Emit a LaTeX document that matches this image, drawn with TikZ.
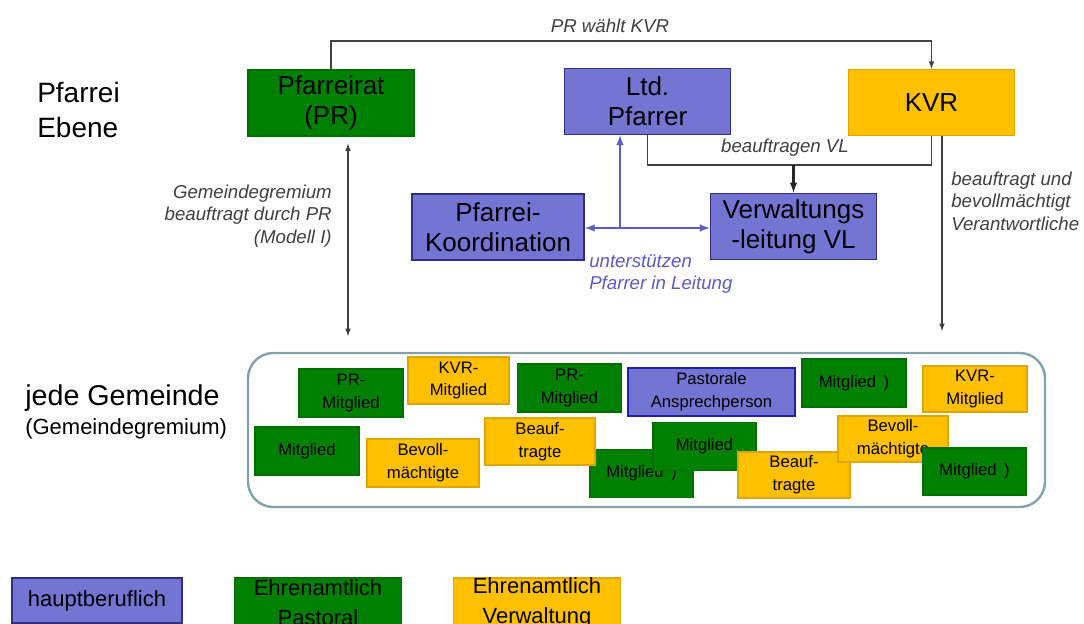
\documentclass[tikz,border=0pt]{standalone}
\usepackage{fontspec}
\setmainfont{Liberation Sans}
\usepackage{tikz}
\usetikzlibrary{positioning,calc,arrows}

\definecolor{prgreen}{RGB}{0,128,0}
\definecolor{prborder}{RGB}{0,110,0}
\definecolor{kvryellow}{RGB}{255,192,0}
\definecolor{kvrborder}{RGB}{222,166,0}
\definecolor{hbblue}{RGB}{116,116,210}
\definecolor{hbborder}{RGB}{46,46,130}
\definecolor{linkblue}{RGB}{92,92,196}
\definecolor{labelgray}{RGB}{64,64,64}
\definecolor{gemborder}{RGB}{132,162,172}

\tikzset{
  pastoral/.style = {fill = prgreen, draw = prborder},
  verwaltung/.style = {fill = kvryellow, draw = kvrborder},
  haupt/.style = {fill = hbblue, draw = hbborder},
  bigbox/.style = {line width = 1.2pt, minimum width = 124.5pt, minimum height = 49.5pt, inner sep = 0pt, align = center, font = \fontsize{19.5}{22.5}\selectfont},
  smallbox/.style = {line width = .8pt, minimum width = 78pt, minimum height = 36pt, inner sep = 0pt, align = center, font = \fontsize{12.5}{17}\selectfont},
  legbox/.style = {line width = 1.2pt, minimum width = 125pt, inner sep = 0pt, align = center, font = \fontsize{16.5}{22.5}\selectfont},
  lbl/.style = {inner sep = 0pt, text = labelgray, font = \fontsize{14}{17}\selectfont\itshape},
  conn/.style = {draw = black!75, line width = .9pt, >=latex},
  blueconn/.style = {draw = linkblue, line width = 1.5pt, >=latex}
}

\begin{document}
\begin{tikzpicture}[x = .75pt, y = -.75pt]

\clip (0,0) rectangle (1084,624);
\fill[white] (0,0) rectangle (1084,624);

%%%%%%%%%%%%%%%%%%%%%%%%%%%%%%%% Pfarrei Ebene

\node[inner sep = 0pt, anchor = west, align = left, font = \fontsize{21}{26}\selectfont] (ebene) at (37,110) {Pfarrei\\Ebene};

\node[bigbox, pastoral] (PR) at (331,103) {Pfarreirat\\(PR)};
\node[bigbox, haupt] (LP) at (647.5,101.5) {Ltd.\\Pfarrer};
\node[bigbox, verwaltung] (KVR) at (931.5,102.5) {KVR};

\node[bigbox, haupt, minimum width = 129pt] (PK) at (498,227) {Pfarrei-\\Koordination};
\node[bigbox, haupt] (VL) at (793.5,226.5) {Verwaltungs\\-leitung VL};

%%%%%%%%%%%%%%%%%%%%%%%%%%%%%%%% connectors

\coordinate (wahl) at (620,41);
\draw[conn, ->] (PR.north) |- (wahl) -| (KVR.north);
\node[lbl] (wahltext) at (610,26) {PR wählt KVR};

\coordinate (vljoin) at (793.5,165);
\draw[conn] (LP.south) |- (vljoin) -| (KVR.south);
\draw[conn, line width = 1.6pt, draw = black!85, ->] (vljoin) -- (VL.north);
\node[lbl] (vltext) at (785,148) {beauftragen VL};

\coordinate (bj) at (620,228);
\draw[blueconn, <->] (PK.east |- bj) -- (VL.west |- bj);
\draw[blueconn, ->] (bj) -- (LP.south -| bj);
\node[lbl, text = linkblue, anchor = west, align = left] (untext) at (589,274) {unterstützen\\Pfarrer in Leitung};

\coordinate (gpr) at (348,336);
\draw[conn, <->, shorten < = 5pt] (PR.south -| gpr) -- (gpr);
\node[lbl, anchor = east, align = right] (prtext) at (332,216) {Gemeindegremium\\beauftragt durch PR\\(Modell I)};

\coordinate (gkvr) at (942,331);
\draw[conn, ->] (KVR.south -| gkvr) -- (gkvr);
\node[lbl, anchor = west, align = left] (kvrtext) at (951,201) {beauftragt und\\bevollmächtigt\\Verantwortliche};

%%%%%%%%%%%%%%%%%%%%%%%%%%%%%%%% jede Gemeinde

\node[inner sep = 0pt, anchor = west, font = \fontsize{21.5}{24}\selectfont] (gemeinde) at (25,398) {jede Gemeinde};
\node[inner sep = 0pt, anchor = west, font = \fontsize{16.5}{18}\selectfont] (gremium) at (25,429) {(Gemeindegremium)};

\node[draw = gemborder, line width = 1.8pt, rounded corners = 19pt, minimum width = 597.75pt, minimum height = 115.5pt] (GEM) at (646.5,430) {};

\node[smallbox, pastoral] (prm1) at (351,393) {PR-\\Mitglied};
\node[smallbox, verwaltung, minimum width = 75.75pt, minimum height = 35.25pt] (kvrm1) at (458.5,380.5) {KVR-\\Mitglied};
\node[smallbox, pastoral] (prm2) at (569.5,388) {PR-\\Mitglied};
\node[smallbox, haupt, draw = hbborder!70!blue, line width = 1.2pt, minimum width = 125.25pt] (pap) at (711.5,392) {Pastorale\\Ansprechperson};
\node[smallbox, pastoral] (mg1) at (854,383) {Mitglied \,)};
\node[smallbox, verwaltung, minimum height = 34.5pt] (kvrm2) at (975,389) {KVR-\\Mitglied};

\node[smallbox, pastoral] (mg2) at (307,451) {Mitglied};
\node[smallbox, verwaltung, minimum width = 84pt] (bev1) at (423,463) {Bevoll-\\mächtigte};
\node[smallbox, pastoral, minimum width = 77.25pt] (mg3) at (641.5,473.5) {Mitglied \,)};
\node[smallbox, verwaltung, minimum width = 82.5pt, minimum height = 35.25pt] (bea1) at (540,441.5) {Beauf-\\tragte};
\node[smallbox, pastoral, minimum width = 77.25pt] (mg4) at (704.5,446.5) {Mitglied};
\node[smallbox, verwaltung, minimum width = 84pt, minimum height = 34.5pt] (bea2) at (794,475) {Beauf-\\tragte};
\node[smallbox, verwaltung, minimum width = 82.5pt, minimum height = 34.5pt] (bev2) at (893,439) {Bevoll-\\mächtigte};
\node[smallbox, pastoral, minimum width = 77.25pt, minimum height = 35.25pt] (mg5) at (974.5,471.5) {Mitglied \,)};

%%%%%%%%%%%%%%%%%%%%%%%%%%%%%%%% legend

\node[legbox, haupt, minimum width = 127.5pt, minimum height = 33.75pt] (leghaupt) at (97,600.5) {hauptberuflich};
\node[legbox, pastoral, minimum height = 37.5pt] (legpast) at (318,603) {Ehrenamtlich\\Pastoral};
\node[legbox, verwaltung, minimum height = 37.5pt] (legverw) at (537,603) {Ehrenamtlich\\Verwaltung};

\end{tikzpicture}
\end{document}
